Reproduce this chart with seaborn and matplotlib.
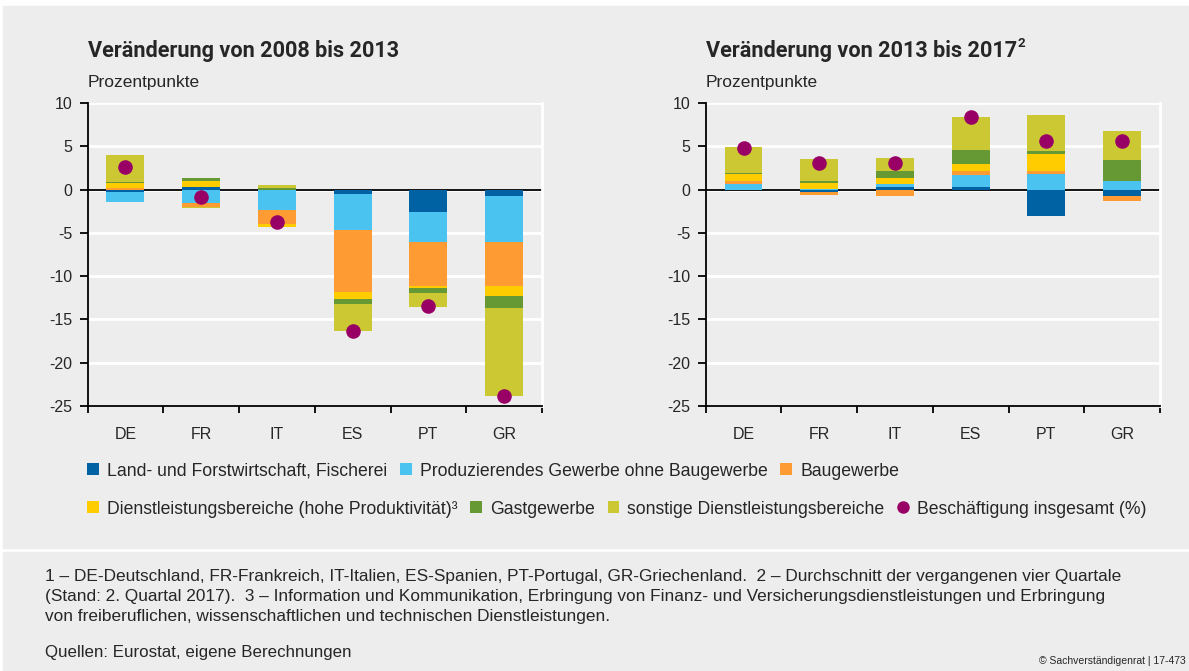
import numpy as np
import seaborn as sns
import matplotlib
matplotlib.use("Agg")
import matplotlib.pyplot as plt
from matplotlib import font_manager
from matplotlib.patches import Patch, Rectangle
from matplotlib.lines import Line2D

countries = ["DE", "FR", "IT", "ES", "PT", "GR"]
sectors = [
    "Land- und Forstwirtschaft, Fischerei",
    "Produzierendes Gewerbe ohne Baugewerbe",
    "Baugewerbe",
    "Dienstleistungsbereiche (hohe Produktivität)³",
    "Gastgewerbe",
    "sonstige Dienstleistungsbereiche",
]
total_label = "Beschäftigung insgesamt (%)"
sector_colors = ["#0061A3", "#4BC3F0", "#FF9B33", "#FFCC00", "#669933", "#CCC833"]
dot_color = "#990066"

# Veränderung 2008 bis 2013 (Prozentpunkte)
land_0813 = [-0.3, 0.27, -0.05, -0.5, -2.6, -0.75]
produz_0813 = [-1.15, -1.5, -2.3, -4.15, -3.45, -5.25]
bau_0813 = [0.2, -0.5, -1.6, -7.15, -5.05, -5.1]
dienst_0813 = [0.58, 0.7, -0.42, -0.8, -0.25, -1.2]
gast_0813 = [0.08, 0.35, 0.2, -0.6, -0.55, -1.35]
sonst_0813 = [3.1, -0.12, 0.35, -3.1, -1.65, -10.25]
total_0813 = [2.6, -0.85, -3.77, -16.35, -13.5, -23.8]

# Veränderung 2013 bis 2017
land_1317 = [-0.1, -0.25, 0.35, 0.3, -3.05, -0.75]
produz_1317 = [0.65, 0.05, 0.35, 1.35, 1.85, 1.0]
bau_1317 = [0.35, -0.4, -0.75, 0.5, 0.3, -0.55]
dienst_1317 = [0.8, 0.7, 0.6, 0.8, 1.95, 0.0]
gast_1317 = [0.1, 0.25, 0.8, 1.6, 0.35, 2.4]
sonst_1317 = [3.0, 2.55, 1.6, 3.8, 4.15, 3.35]
total_1317 = [4.8, 3.05, 3.05, 8.35, 5.65, 5.6]

bg = "#EDEDED"
sns.set_style("white", {"axes.facecolor": bg, "figure.facecolor": "white"})
available = {f.name for f in font_manager.fontManager.ttflist}
narrow = "Liberation Sans Narrow" if "Liberation Sans Narrow" in available else "Roboto"
plt.rcParams["font.family"] = ["Liberation Sans", "DejaVu Sans"]
plt.rcParams["axes.unicode_minus"] = False

W, H = 1189, 671
fig = plt.figure(figsize=(W / 100, H / 100), dpi=100)

# grey panels with white separators
fig.patches.append(Rectangle((3 / W, 1 - 548 / H), 1, 542 / H, transform=fig.transFigure,
                             color=bg, zorder=-10))
fig.patches.append(Rectangle((3 / W, 0), 1, 1 - 552 / H, transform=fig.transFigure,
                             color=bg, zorder=-10))


def draw_panel(ax, parts, total):
    pos = np.zeros(len(countries))
    neg = np.zeros(len(countries))
    for vals, col in zip(parts, sector_colors):
        vals = np.asarray(vals, dtype=float)
        bottom = np.where(vals >= 0, pos, neg)
        sns.barplot(x=countries, y=vals, bottom=bottom, color=col, saturation=1,
                    width=0.5, errorbar=None, linewidth=0, ax=ax, zorder=2)
        pos += np.clip(vals, 0, None)
        neg += np.clip(vals, None, 0)
    sns.pointplot(x=countries, y=total, color=dot_color, linestyle="none", marker="o",
                  markersize=10.5, markeredgewidth=0, errorbar=None, ax=ax, zorder=5)

    ax.set_ylim(-25, 10)
    ax.set_xlim(-0.5, 5.5)
    ax.set_yticks(range(-25, 11, 5))
    ax.set_xticks(range(len(countries)))
    ax.set_xticklabels(countries)
    ax.set_xticks(np.arange(-0.5, 6, 1), minor=True)
    ax.set_xlabel("")
    ax.set_ylabel("")
    ax.set_axisbelow(True)
    ax.yaxis.grid(True, color="white", linewidth=2)
    ax.xaxis.grid(False)
    ax.axhline(0, color="black", linewidth=1.3, zorder=1)
    ax.tick_params(axis="y", length=6, width=1.3, color="black", pad=5, labelsize=11.5,
                   left=True)
    ax.tick_params(axis="x", which="major", length=0, pad=15, labelsize=11.5)
    ax.tick_params(axis="x", which="minor", length=5, width=1.3, color="black",
                   bottom=True)
    for side in ["left", "bottom"]:
        ax.spines[side].set_visible(True)
        ax.spines[side].set_color("black")
        ax.spines[side].set_linewidth(1.3)
    ax.spines["top"].set_visible(False)
    ax.spines["right"].set_visible(True)
    ax.spines["right"].set_color("white")
    ax.spines["right"].set_linewidth(2)


ax1 = fig.add_axes([87.5 / W, 1 - 406 / H, 454.5 / W, 303 / H])
ax2 = fig.add_axes([705.7 / W, 1 - 406 / H, 454.3 / W, 303 / H])
draw_panel(ax1, [land_0813, produz_0813, bau_0813, dienst_0813, gast_0813, sonst_0813], total_0813)
draw_panel(ax2, [land_1317, produz_1317, bau_1317, dienst_1317, gast_1317, sonst_1317], total_1317)

fig.text(88 / W, 1 - 57 / H, "Veränderung von 2008 bis 2013", family=narrow,
         fontweight="bold", fontsize=15.6, va="baseline")
title2 = fig.text(706 / W, 1 - 57 / H, "Veränderung von 2013 bis 2017", family=narrow,
                  fontweight="bold", fontsize=15.6, va="baseline")
ax2.annotate("2", xy=(1.0, 0.55), xycoords=title2, xytext=(0.5, 0),
             textcoords="offset points", family=narrow, fontweight="bold", fontsize=9.5,
             va="bottom", ha="left", annotation_clip=False)
for x in [88, 706]:
    fig.text(x / W, 1 - 87 / H, "Prozentpunkte", fontsize=12.5, va="baseline")

handles = [Patch(facecolor=c, edgecolor="none") for c in sector_colors]
dot_handle = Line2D([], [], linestyle="none", marker="o", markersize=9,
                    markerfacecolor=dot_color, markeredgewidth=0)
leg_kw = dict(frameon=False, fontsize=12.7, handlelength=0.67, handleheight=0.67,
              handletextpad=0.45, columnspacing=0.73, borderpad=0, borderaxespad=0,
              loc="center left")
leg1 = fig.legend(handles[:3], sectors[:3], ncol=3,
                  bbox_to_anchor=(87 / W, 1 - 471 / H), **leg_kw)
leg2 = fig.legend(handles[3:] + [dot_handle], sectors[3:] + [total_label], ncol=4,
                  bbox_to_anchor=(87 / W, 1 - 509 / H), **leg_kw)

notes = [
    "1 – DE-Deutschland, FR-Frankreich, IT-Italien, ES-Spanien, PT-Portugal, GR-Griechenland.  "
    "2 – Durchschnitt der vergangenen vier Quartale",
    "(Stand: 2. Quartal 2017).  3 – Information und Kommunikation, Erbringung von Finanz- und "
    "Versicherungsdienstleistungen und Erbringung",
    "von freiberuflichen, wissenschaftlichen und technischen Dienstleistungen.",
]
for i, line in enumerate(notes):
    fig.text(45 / W, 1 - (577 + 20 * i) / H, line, fontsize=12.4, va="center")
fig.text(45 / W, 1 - 653 / H, "Quellen: Eurostat, eigene Berechnungen", fontsize=12.2, va="center")
fig.text(1186 / W, 1 - 661 / H, "© Sachverständigenrat | 17-473", fontsize=7.5,
         va="center", ha="right")

fig.savefig("out.png", dpi=100)
